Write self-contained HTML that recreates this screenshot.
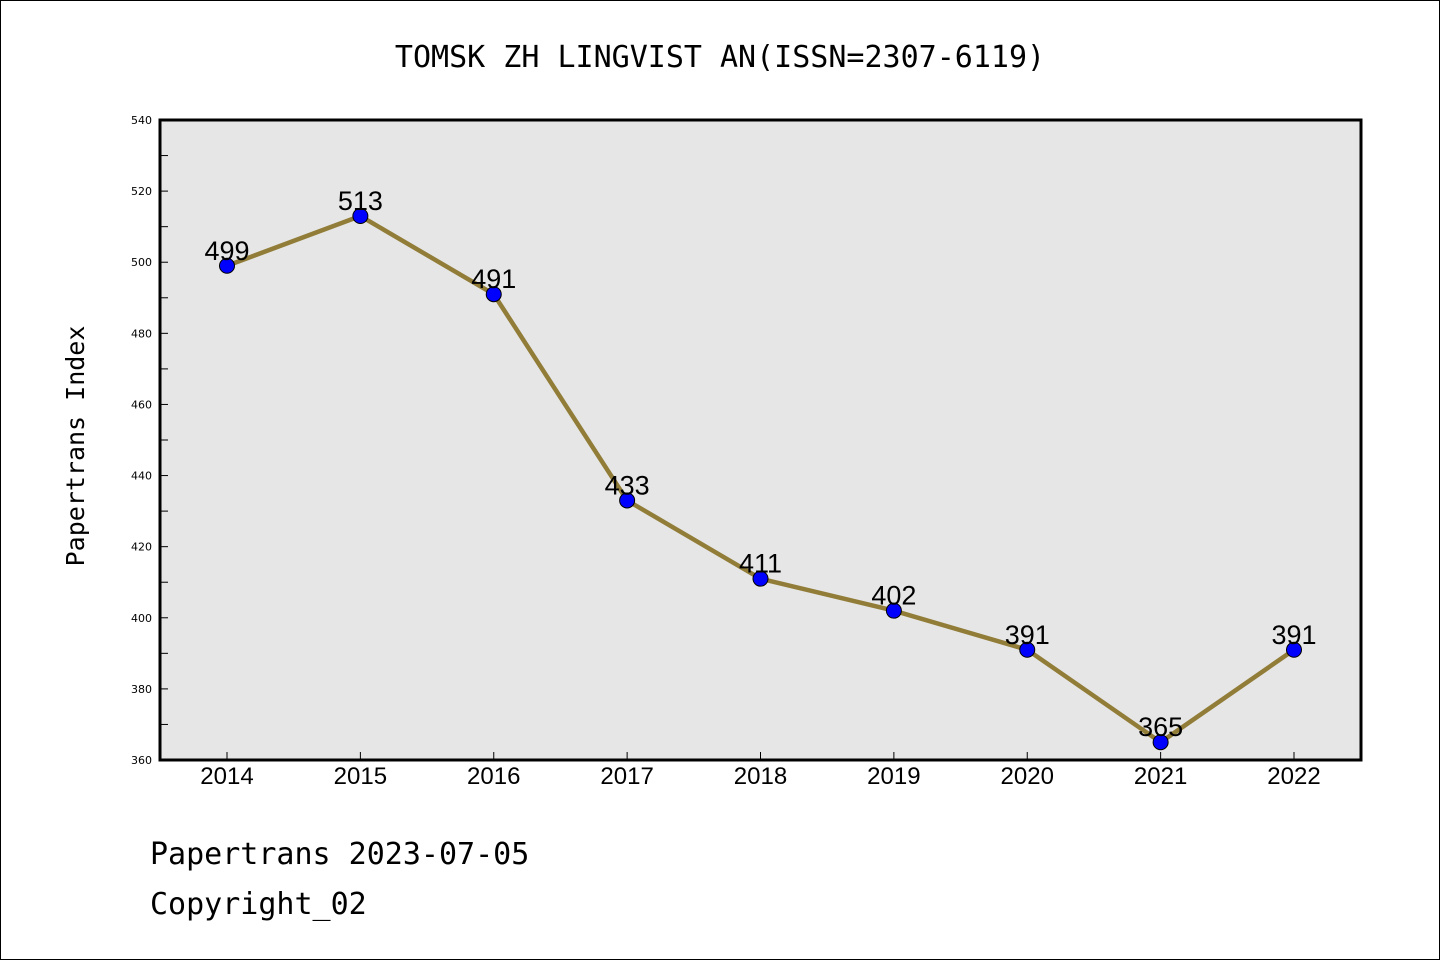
<!DOCTYPE html>
<html><head><meta charset="utf-8"><style>
html,body{margin:0;padding:0;background:#fff}
svg{display:block}
</style></head><body>
<svg width="1440" height="960" xmlns="http://www.w3.org/2000/svg">
<rect x="0.5" y="0.5" width="1439" height="959" fill="#fff" stroke="#000" stroke-width="1"/>
<text x="720" y="67" text-anchor="middle" font-family="'WenQuanYi Zen Hei Mono','DejaVu Sans Mono','Liberation Mono',monospace" font-size="30">TOMSK ZH LINGVIST AN(ISSN=2307-6119)</text>
<rect x="160" y="120" width="1201" height="640" fill="#e6e6e6"/>
<g id="yaxis"></g>
<g id="xaxis"></g>
<g id="series"></g>
<rect x="160" y="120" width="1201" height="640" fill="none" stroke="#000" stroke-width="3"/>
<text transform="translate(84,446) rotate(-90)" text-anchor="middle" font-family="'WenQuanYi Zen Hei Mono','DejaVu Sans Mono','Liberation Mono',monospace" font-size="25">Papertrans Index</text>
<text x="150" y="864" font-family="'WenQuanYi Zen Hei Mono','DejaVu Sans Mono','Liberation Mono',monospace" font-size="30">Papertrans 2023-07-05</text>
<text x="150" y="914" font-family="'WenQuanYi Zen Hei Mono','DejaVu Sans Mono','Liberation Mono',monospace" font-size="30">Copyright_02</text>
</svg>
<script>
const years = [2014,2015,2016,2017,2018,2019,2020,2021,2022];
const values = [499,513,491,433,411,402,391,365,391];
const yTicks = [360,380,400,420,440,460,480,500,520,540];
const NS = "http://www.w3.org/2000/svg";
const yMin = 360, yMax = 540, plotTop = 120, plotBottom = 760;
function yScale(v){ return plotBottom - (v - yMin) / (yMax - yMin) * (plotBottom - plotTop); }
function xScale(i){ return 227 + i * (1294 - 227) / (years.length - 1); }
function mk(tag, attrs, parent){ const e = document.createElementNS(NS, tag); for (const k in attrs) e.setAttribute(k, attrs[k]); parent.appendChild(e); return e; }
const ya = document.getElementById('yaxis');
for (let v = yMin; v <= yMax; v += 10) {
  const major = yTicks.includes(v);
  const t = mk('line', {x1:160, x2:168, y1:yScale(v), y2:yScale(v), stroke:'#000', 'stroke-width':1}, ya);
  
  
  if (major) {
    const l = mk('text', {x:152, y:yScale(v)+4, 'text-anchor':'end', 'font-family':"'DejaVu Sans',sans-serif", 'font-size':11}, ya);
    l.textContent = v;
    
    
  }
}
const xa = document.getElementById('xaxis');
years.forEach((yr, i) => {
  const t = mk('line', {x1:xScale(i), x2:xScale(i), y1:760, y2:752, stroke:'#000', 'stroke-width':1}, xa);
  
  
  const l = mk('text', {x:xScale(i), y:784, 'text-anchor':'middle', 'font-family':"'Liberation Sans',sans-serif", 'font-size':24}, xa);
  l.textContent = yr;
  
  
});
const s = document.getElementById('series');
const line = mk('polyline', {points: values.map((v,i)=>xScale(i)+','+yScale(v)).join(' '), fill:'none', stroke:'#917d38', 'stroke-width':4.5}, s);


values.forEach((v, i) => {
  const c = mk('circle', {cx:xScale(i), cy:yScale(v), r:7.5, fill:'#0000ff', stroke:'#000', 'stroke-width':1}, s);
  
  
  const l = mk('text', {x:xScale(i), y:yScale(v)-6, 'text-anchor':'middle', 'font-family':"'Liberation Sans',sans-serif", 'font-size':27}, s);
  l.textContent = v;
  
  
});
</script>
</body></html>
